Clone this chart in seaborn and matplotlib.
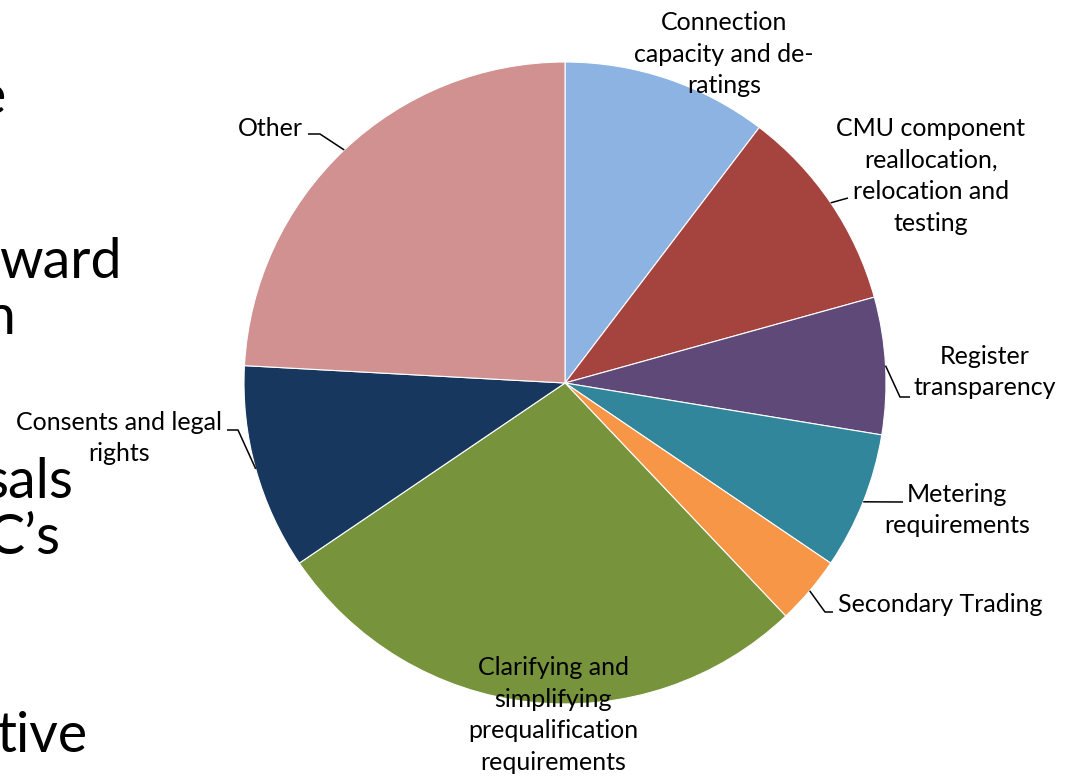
import numpy as np
import matplotlib
matplotlib.use("Agg")
import matplotlib.pyplot as plt
import seaborn as sns

# ---- data ----
categories = [
    "Connection\ncapacity and de-\nratings",
    "CMU component\nreallocation,\nrelocation and\ntesting",
    "Register\ntransparency",
    "Metering\nrequirements",
    "Secondary Trading",
    "Clarifying and\nsimplifying\nprequalification\nrequirements",
    "Consents and legal\nrights",
    "Other",
]
counts = [3, 3, 2, 2, 1, 8, 3, 7]
colors = ["#8DB3E2", "#A5443F", "#5E4979", "#31869B", "#F79646",
          "#77933C", "#17375E", "#D19190"]

# slide text fragments on the left (cropped)
side_text = ["e", "ward", "n", "sals", "C\u2019s", "tive"]

sns.set_theme(style="white")
plt.rcParams["font.family"] = ["Lato", "DejaVu Sans"]

fig = plt.figure(figsize=(10.66, 7.77), dpi=100)
ax = fig.add_axes([0, 0, 1, 1])

wedges, _ = ax.pie(counts, colors=colors, startangle=-90, counterclock=True,
                   center=(565, 383), radius=321, frame=True,
                   wedgeprops=dict(edgecolor="white", linewidth=0.8))
ax.set_xlim(0, 1066)
ax.set_ylim(777, 0)
ax.set_axis_off()

# label layout: text position (px), alignment, leader elbow & end (None = no leader)
label_layout = [
    ((724, 54), "center", None),
    ((931, 176), "center", ((848, 198), (848, 198))),
    ((985, 372), "center", ((900, 397), (910, 397))),
    ((957, 510), "center", ((903, 502), (903, 502))),
    ((838, 604), "left", ((825, 612), (833, 612))),
    ((553, 715), "center", None),
    ((119, 438), "center", ((238, 430), (227, 430))),
    ((303, 128), "right", ((320, 134), (308, 134))),
]

fs = 18
for w, lab, (pos, ha, lead) in zip(wedges, categories, label_layout):
    ax.text(pos[0], pos[1], lab, ha=ha, va="center", fontsize=fs,
            color="black", linespacing=1.45, multialignment="center")
    if lead is not None:
        mid = np.deg2rad((w.theta1 + w.theta2) / 2)
        sx = w.center[0] + w.r * np.cos(mid)
        sy = w.center[1] + w.r * np.sin(mid)
        xs = [sx, lead[0][0], lead[1][0]]
        ys = [sy, lead[0][1], lead[1][1]]
        ax.plot(xs, ys, color="black", lw=1.1, solid_capstyle="butt")

# cropped slide text
side_pos = [(6, 98), (122, 262), (15, 318), (73, 483), (60, 538), (88, 737)]
for t, (x, y) in zip(side_text, side_pos):
    ax.text(x, y, t, ha="right", va="center", fontsize=40, color="black")

fig.savefig("out.png", dpi=100)
